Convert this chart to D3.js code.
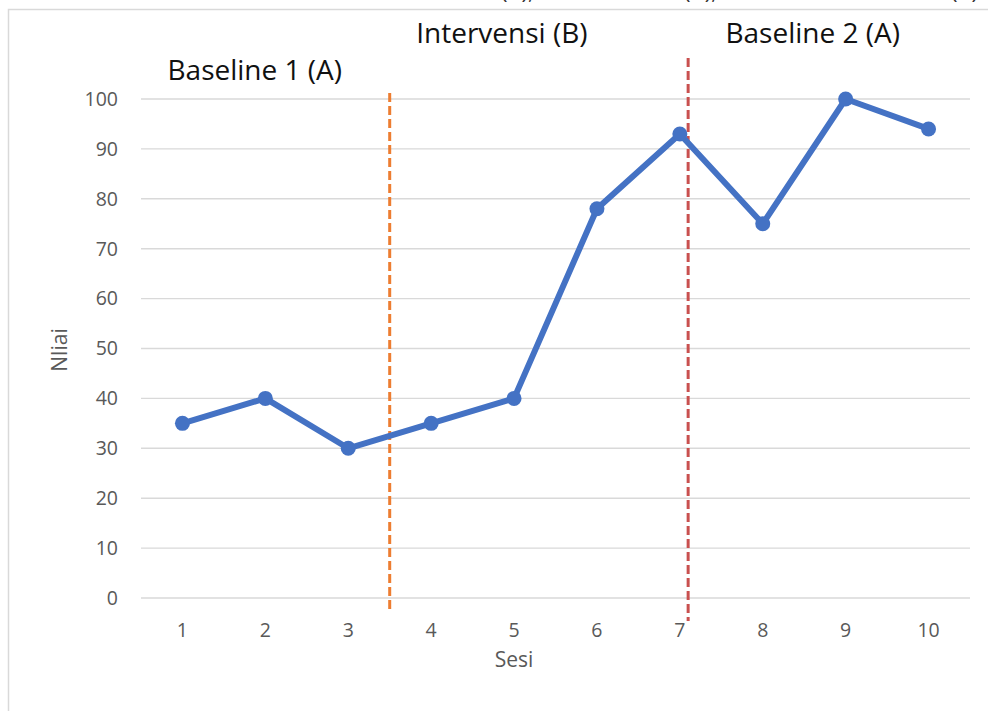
<!DOCTYPE html>
<html><head><meta charset="utf-8">
<script src="https://cdn.jsdelivr.net/npm/d3@7"></script>
<style>body{margin:0;background:#fff}svg{display:block}</style>
</head><body><svg id="c" width="988" height="711"></svg>
<script>
const sessions = [1,2,3,4,5,6,7,8,9,10];
const scores = [35,40,30,35,40,78,93,75,100,94];
const yTicks = [0,10,20,30,40,50,60,70,80,90,100];
const phaseLines = [
  {pos: 3.5, top: 101.2, bottom: -2.8, color: "#ED7D31"},
  {pos: 7.1, top: 108.2, bottom: -4.6, color: "#C9504F"}
];
const phaseLabels = [
  {text: "Baseline 1 (A)", pos: 0.82, val: 103.9},
  {text: "Intervensi (B)", pos: 3.82, val: 111.3},
  {text: "Baseline 2 (A)", pos: 7.55, val: 111.3}
];
const cutTitles = [{text:"(A),", x:501},{text:"(B),", x:684},{text:"(A)", x:951}];

const svg = d3.select("#c");
const font = "'Open Sans', sans-serif";
const x = d3.scaleLinear().domain([0.5, 10.5]).range([141, 970]);
const y = d3.scaleLinear().domain([0, 100]).range([598, 99]);

svg.append("rect").attr("x",8.5).attr("y",9.5).attr("width",1100).attr("height",1000)
  .attr("fill","none").attr("stroke","#d9d9d9").attr("stroke-width",1.5);

svg.selectAll(".cut").data(cutTitles).enter().append("text")
  .attr("x",d=>d.x).attr("y",-1).attr("font-family",font).attr("font-size",22)
  .attr("fill","#333").text(d=>d.text);

// grid
svg.append("g").selectAll("line").data(yTicks).enter().append("line")
  .attr("x1",141).attr("x2",970).attr("y1",d=>y(d)).attr("y2",d=>y(d))
  .attr("stroke","#d9d9d9").attr("stroke-width",1.4);

// y labels
svg.append("g").selectAll("text").data(yTicks).enter().append("text")
  .attr("x",118).attr("y",d=>y(d)).attr("dy","0.35em").attr("text-anchor","end")
  .attr("font-family",font).attr("font-size",19.5).attr("fill","#595959").text(d=>d);

// x labels
svg.append("g").selectAll("text").data(sessions).enter().append("text")
  .attr("x",d=>x(d)).attr("y",630).attr("dy","0.35em").attr("text-anchor","middle")
  .attr("font-family",font).attr("font-size",19.5).attr("fill","#595959").text(d=>d);

svg.append("text").attr("x",514).attr("y",660).attr("dy","0.35em").attr("text-anchor","middle")
  .attr("font-family",font).attr("font-size",21).attr("fill","#595959").text("Sesi");
svg.append("text").attr("transform","translate(60,350) rotate(-90)").attr("dy","0.35em")
  .attr("text-anchor","middle").attr("font-family",font).attr("font-size",21)
  .attr("fill","#595959").text("Nliai");

// phase lines
svg.append("g").selectAll("line").data(phaseLines).enter().append("line")
  .attr("x1",d=>x(d.pos)).attr("x2",d=>x(d.pos)).attr("y1",d=>y(d.top)).attr("y2",d=>y(d.bottom))
  .attr("stroke",d=>d.color).attr("stroke-width",3).attr("stroke-dasharray","9,4");

// series
const data = sessions.map((s,i)=>({s, v:scores[i]}));
svg.append("path").datum(data)
  .attr("d", d3.line().x(d=>x(d.s)).y(d=>y(d.v)))
  .attr("fill","none").attr("stroke","#4472C4").attr("stroke-width",6)
  .attr("stroke-linejoin","round");
svg.append("g").selectAll("circle").data(data).enter().append("circle")
  .attr("cx",d=>x(d.s)).attr("cy",d=>y(d.v)).attr("r",7.5).attr("fill","#4472C4");

// phase labels
svg.append("g").selectAll("text").data(phaseLabels).enter().append("text")
  .attr("x",d=>x(d.pos)).attr("y",d=>y(d.val)).attr("font-family",font).attr("font-size",28)
  .attr("fill","#111").text(d=>d.text);
</script></body></html>
